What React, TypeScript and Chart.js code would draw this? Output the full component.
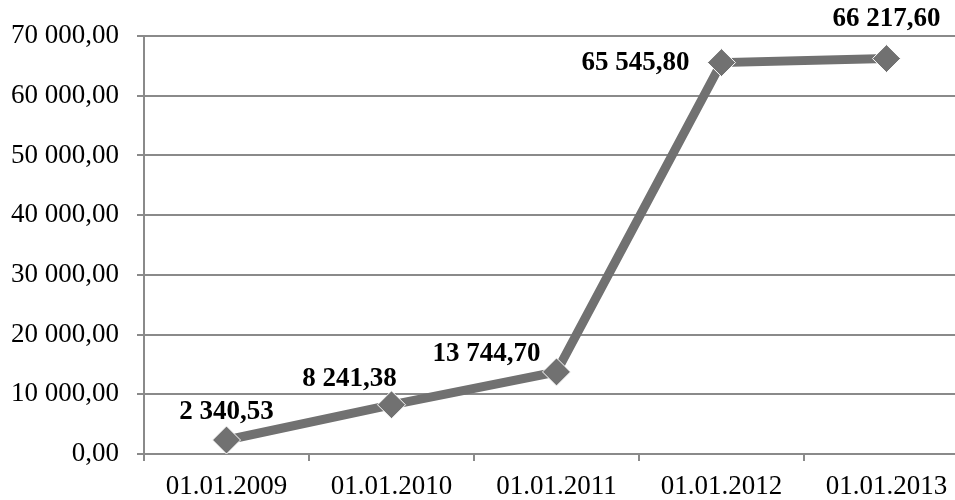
import React, { useEffect, useRef } from "react";
import { Chart, registerables } from "chart.js";

Chart.register(...registerables);

const categories = ["01.01.2009", "01.01.2010", "01.01.2011", "01.01.2012", "01.01.2013"];
const values = [2340.53, 8241.38, 13744.7, 65545.8, 66217.6];
const yMin = 0;
const yMax = 70000;
const yStep = 10000;

function fmt(v: number): string {
  const [i, d] = v.toFixed(2).split(".");
  const grouped = i.replace(/\B(?=(\d{3})+(?!\d))/g, " ");
  return grouped + "," + d;
}

const labelOffsets = [
  { dx: 0, dy: -28 },
  { dx: -42, dy: -26 },
  { dx: -70, dy: -18 },
  { dx: -86, dy: 0 },
  { dx: 0, dy: -40 },
];

const FONT = "'Liberation Serif', 'Times New Roman', serif";

const dataLabelPlugin = {
  id: "dataLabels",
  afterDatasetsDraw(chart: any) {
    const ctx = chart.ctx;
    const meta = chart.getDatasetMeta(0);
    ctx.save();
    ctx.font = "bold 27px " + FONT;
    ctx.fillStyle = "#000";
    ctx.textAlign = "center";
    ctx.textBaseline = "middle";
    meta.data.forEach((pt: any, i: number) => {
      const o = labelOffsets[i];
      ctx.fillText(fmt(values[i]), pt.x + o.dx, pt.y + o.dy);
    });
    ctx.restore();
  },
};

export default function App() {
  const ref = useRef<HTMLCanvasElement | null>(null);
  useEffect(() => {
    document.body.style.margin = "0";
    const chart = new Chart(ref.current!, {
      type: "line",
      data: {
        labels: categories,
        datasets: [
          {
            data: values,
            borderColor: "#717171",
            backgroundColor: "#717171",
            borderWidth: 9,
            pointStyle: "rectRot",
            pointRadius: 14,
            pointBackgroundColor: "#717171",
            pointBorderColor: "#ffffff",
            pointBorderWidth: 1,
            tension: 0,
          },
        ],
      },
      options: {
        animation: false,
        responsive: false,
        maintainAspectRatio: false,
        layout: { padding: { top: 36, right: 0, left: 0, bottom: 0 } },
        plugins: { legend: { display: false }, tooltip: { enabled: false } },
        scales: {
          x: {
            offset: true,
            grid: {
              offset: true,
              drawOnChartArea: false,
              drawTicks: true,
              tickLength: 7,
              color: "#8a8a8a",
              lineWidth: 2,
            },
            border: { display: true, color: "#8a8a8a", width: 2 },
            ticks: {
              color: "#000",
              font: { family: FONT, size: 27 },
              padding: 10,
              maxRotation: 0,
              autoSkip: false,
            },
            afterFit(scale: any) {
              scale.height = 46;
              scale.paddingLeft = 0;
              scale.paddingRight = 0;
            },
          },
          y: {
            min: yMin,
            max: yMax,
            ticks: {
              stepSize: yStep,
              color: "#000",
              font: { family: FONT, size: 27 },
              padding: 18,
              callback: (v: any) => fmt(Number(v)),
            },
            grid: {
              color: "#8a8a8a",
              lineWidth: 2,
              tickLength: 7,
            },
            border: { display: true, color: "#8a8a8a", width: 2 },
            afterFit(scale: any) {
              scale.width = 144;
            },
          },
        },
      },
      plugins: [dataLabelPlugin],
    });
    return () => chart.destroy();
  }, []);
  return (
    <div style={{ position: "absolute", left: 0, top: 0, width: 955, height: 500, overflow: "hidden" }}>
      <canvas ref={ref} width={984} height={500} style={{ display: "block" }} />
    </div>
  );
}
